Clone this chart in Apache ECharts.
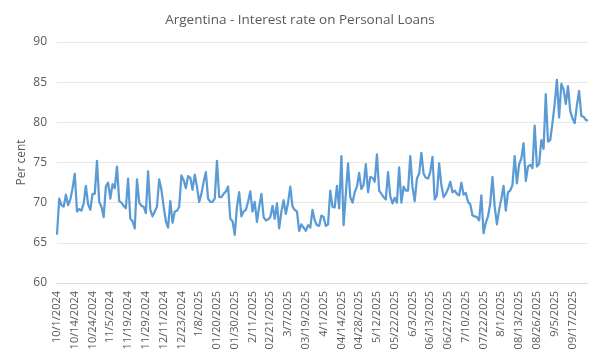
<!DOCTYPE html>
<html>
<head>
<meta charset="utf-8">
<script src="https://cdn.jsdelivr.net/npm/echarts@6/dist/echarts.min.js"></script>
<style>html,body{margin:0;padding:0;background:#fff}#chart{width:600px;height:361px}</style>
</head>
<body>
<div id="chart"></div>
<script>
// Tick labels shown every 8th observation
const tickLabels = ["10/1/2024","10/14/2024","10/24/2024","11/5/2024","11/19/2024","11/29/2024","12/11/2024","12/23/2024","1/8/2025","01/20/2025","01/30/2025","2/11/2025","02/21/2025","3/7/2025","03/19/2025","4/1/2025","04/14/2025","04/28/2025","5/12/2025","05/22/2025","6/3/2025","06/13/2025","06/27/2025","7/10/2025","07/22/2025","8/1/2025","08/13/2025","08/26/2025","9/5/2025","09/17/2025"];
const labelStep = 8;

// Oct 2024 - Jan 2025
const valuesA = [66.0,70.5,69.7,69.5,71.0,69.7,70.4,71.8,73.6,68.9,
69.2,69.0,69.9,72.1,69.8,69.1,71.1,71.1,75.2,70.1,
69.5,68.2,72.0,72.5,70.5,72.3,71.8,74.5,70.2,70.0,
69.6,69.3,73.0,68.0,67.7,66.8,72.9,70.0,69.6,69.5,
68.7,73.9,69.1,68.3,68.9,69.5,72.9,71.6,69.5,67.7,
66.9,70.2,67.5,68.9,69.0,69.5,73.4,72.8,71.8,73.3];
// Jan 2025 - Apr 2025
const valuesB = [73.1,71.6,73.5,72.0,70.1,71.1,72.6,73.8,70.5,70.1,
70.1,70.5,75.2,70.7,70.7,71.1,71.4,72.0,68.0,67.7,
66.0,69.5,71.3,68.3,68.9,69.1,70.1,71.4,68.9,70.1,
67.6,69.5,71.1,68.2,67.8,67.9,68.2,69.6,68.0,69.9,
66.8,68.9,70.3,68.6,70.0,72.0,69.5,69.1,68.9,66.5,
67.3,66.9,66.5,67.2,66.9,69.1,67.8,67.2,67.1,68.4];
// Apr 2025 - Jul 2025
const valuesC = [68.2,67.1,67.3,71.5,69.5,69.4,72.1,69.3,75.8,67.2,
71.1,74.9,70.7,70.0,71.3,72.0,73.7,71.7,72.2,74.8,
71.3,73.2,73.1,72.6,76.0,71.5,71.1,70.7,70.4,73.8,
70.8,69.9,70.6,70.0,74.4,70.0,72.0,71.5,71.5,75.8,
72.0,70.2,73.0,73.6,76.2,73.6,73.1,73.0,73.8,75.7,
70.4,70.9,74.9,72.2,70.7,71.1,71.7,72.6,71.3,71.5];
// Jul 2025 - Sep 2025
const valuesD = [71.1,70.9,72.5,71.0,71.2,70.1,69.8,68.4,68.3,68.2,
67.8,70.9,66.2,67.5,68.3,69.9,73.2,69.5,67.3,69.1,
70.5,72.1,69.0,71.3,71.5,72.2,75.8,72.4,74.8,75.5,
77.4,72.7,74.5,74.7,74.3,79.6,74.5,74.8,77.8,76.7,
83.5,77.6,77.8,79.9,82.3,85.3,80.6,84.8,84.1,82.3,
84.5,81.4,80.5,79.9,82.1,83.9,80.8,80.7,80.3,80.2];

const values = valuesA.concat(valuesB, valuesC, valuesD);
const categories = values.map((v, i) => (i % labelStep === 0 && tickLabels[i / labelStep]) ? tickLabels[i / labelStep] : '');

const yTicks = {min: 60, max: 90, interval: 5};

const chart = echarts.init(document.getElementById('chart'), null, {renderer: 'canvas'});
chart.setOption({
  animation: false,
  backgroundColor: '#ffffff',
  title: {
    text: 'Argentina - Interest rate on Personal Loans',
    left: 'center',
    top: 8,
    textStyle: {fontFamily: 'Open Sans', fontSize: 13.5, fontWeight: 'normal', color: '#595959'}
  },
  grid: {left: 57, right: 12, top: 42, bottom: 78},
  xAxis: {
    type: 'category',
    data: categories,
    boundaryGap: false,
    axisLine: {show: true, lineStyle: {color: '#d9d9d9', width: 1}},
    axisTick: {show: false},
    axisLabel: {
      interval: labelStep - 1,
      rotate: 90,
      margin: 8,
      padding: [8, 0, 0, 0],
      fontFamily: 'Open Sans',
      fontSize: 11,
      color: '#595959'
    },
    splitLine: {show: false}
  },
  yAxis: {
    type: 'value',
    min: yTicks.min,
    max: yTicks.max,
    interval: yTicks.interval,
    name: 'Per cent',
    nameLocation: 'middle',
    nameGap: 29,
    nameMoveOverlap: false,
    nameTextStyle: {fontFamily: 'Open Sans', fontSize: 12, color: '#595959'},
    axisLine: {show: false},
    axisTick: {show: false},
    axisLabel: {fontFamily: 'Open Sans', fontSize: 12, color: '#595959', margin: 10},
    splitLine: {lineStyle: {color: '#e6e6e6', width: 1}}
  },
  series: [{
    type: 'line',
    data: values,
    showSymbol: false,
    symbol: 'none',
    lineStyle: {color: '#5b9bd5', width: 2.25, join: 'round'},
    itemStyle: {color: '#5b9bd5'}
  }]
});
</script>
</body>
</html>
